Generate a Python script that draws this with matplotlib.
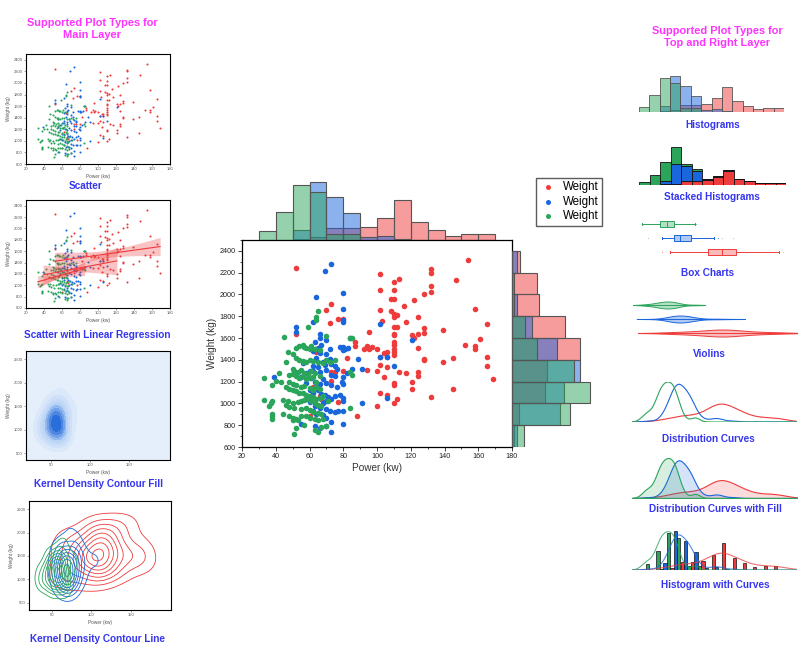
import numpy as np
import matplotlib
matplotlib.use('Agg')
import matplotlib.pyplot as plt
from matplotlib.colors import LinearSegmentedColormap, to_rgba
from matplotlib.ticker import MultipleLocator

plt.rcParams['font.family'] = ['Liberation Sans', 'DejaVu Sans']

# scatter data (power kw, weight kg)
red_x = [52, 154, 132, 132, 147, 113, 110, 102, 102, 110, 132, 132, 128, 122, 110, 108, 116, 102, 110, 112,
         110, 108, 124, 158, 70, 73, 77, 80, 72, 117, 110, 112, 165, 128, 139, 128, 110, 121, 124, 110,
         52, 95, 103, 87, 87, 92, 94, 97, 95, 100, 104, 106, 106, 110, 110, 110, 102, 124, 152, 158,
         158, 161, 110, 110, 122, 94, 100, 102, 106, 113, 117, 124, 124, 104, 128, 128, 139, 145, 165, 165,
         169, 110, 110, 121, 121, 102, 106, 112, 110, 100, 132, 145, 88, 82, 73, 75, 73, 67, 60, 64,
         66, 62, 80, 77]
red_y = [2245, 2320, 2230, 2200, 2135, 2145, 2115, 2190, 2045, 2040, 2080, 2020, 2000, 1945, 1960, 1960, 1895, 1860, 1825, 1810,
         1790, 1850, 1795, 1870, 1860, 1915, 1775, 1775, 1740, 1750, 1700, 1700, 1725, 1690, 1670, 1650, 1640, 1630, 1635, 1625,
         1640, 1655, 1760, 1560, 1530, 1495, 1530, 1515, 1500, 1500, 1460, 1470, 1430, 1500, 1470, 1440, 1425, 1510, 1540, 1525,
         1495, 1590, 1560, 1540, 1605, 1305, 1300, 1350, 1330, 1290, 1275, 1290, 1250, 1240, 1400, 1410, 1380, 1420, 1430, 1345,
         1220, 1190, 1170, 1195, 1135, 1100, 1080, 1040, 1000, 975, 1060, 1135, 880, 1420, 1290, 1285, 1210, 1040, 880, 1475,
         1070, 1150, 1295, 1010]

blue_x = [73, 69, 64, 80, 80, 80, 80, 62, 52, 52, 66, 66, 70, 84, 63, 67, 72, 65, 78, 80,
          80, 81, 83, 62, 66, 70, 72, 64, 68, 69, 73, 75, 76, 62, 65, 60, 58, 62, 66, 70,
          73, 75, 80, 82, 85, 89, 91, 61, 63, 66, 68, 70, 73, 76, 79, 80, 58, 55, 60, 62,
          65, 67, 69, 71, 73, 75, 78, 80, 80, 58, 60, 63, 66, 70, 72, 75, 77, 80, 62, 64,
          68, 70, 73, 55, 63, 66, 70, 73, 80, 91, 102, 121, 102, 106, 110, 106, 56, 39, 68, 70]
blue_y = [2280, 2215, 1975, 2010, 1870, 1770, 1750, 1745, 1700, 1660, 1640, 1600, 1580, 1605, 1560, 1540, 1500, 1510, 1520, 1520,
          1490, 1500, 1510, 1480, 1460, 1450, 1410, 1420, 1380, 1350, 1360, 1340, 1320, 1340, 1330, 1300, 1280, 1300, 1290, 1310,
          1260, 1250, 1240, 1280, 1320, 1405, 1320, 1230, 1200, 1180, 1220, 1190, 1170, 1150, 1200, 1180, 1190, 1240, 1120, 1100,
          1120, 1090, 1080, 1060, 1040, 1070, 1080, 1050, 1020, 1040, 1010, 980, 960, 950, 930, 920, 930, 930, 930, 900,
          890, 870, 830, 810, 790, 770, 790, 740, 810, 1000, 1730, 1585, 1430, 1430, 1340, 1050, 1375, 1240, 1000, 1020]

green_x = [65, 64, 64, 59, 70, 45, 52, 54, 56, 57, 58, 60, 61, 63, 66, 85, 84, 47, 50, 52,
           54, 56, 58, 60, 62, 65, 68, 70, 72, 75, 46, 50, 51, 53, 55, 57, 59, 61, 63, 50,
           52, 54, 56, 58, 60, 62, 64, 66, 84, 85, 33, 40, 43, 48, 50, 52, 55, 57, 60, 62,
           64, 66, 38, 46, 48, 50, 52, 54, 56, 58, 60, 62, 64, 66, 68, 44, 47, 50, 53, 55,
           57, 59, 61, 63, 65, 67, 33, 37, 38, 36, 46, 48, 51, 55, 58, 60, 62, 65, 67, 84,
           71, 38, 38, 38, 44, 48, 50, 52, 50, 53, 55, 58, 60, 63, 65, 68, 52, 57, 63, 65,
           67, 51, 70, 56, 48, 42]
green_y = [1850, 1790, 1770, 1700, 1620, 1610, 1510, 1530, 1540, 1520, 1510, 1500, 1530, 1500, 1490, 1600, 1600, 1470, 1450, 1420,
           1400, 1390, 1380, 1400, 1390, 1380, 1370, 1400, 1380, 1400, 1380, 1320, 1300, 1290, 1310, 1280, 1270, 1300, 1280, 1270,
           1250, 1230, 1250, 1220, 1230, 1240, 1200, 1250, 1290, 1260, 1230, 1210, 1200, 1200, 1180, 1170, 1150, 1160, 1140, 1120,
           1150, 1130, 1170, 1150, 1130, 1120, 1110, 1100, 1100, 1080, 1070, 1060, 1040, 1050, 1070, 1030, 1020, 1000, 1010, 1020,
           1030, 1040, 1020, 1000, 990, 980, 1030, 1000, 1020, 980, 990, 970, 960, 950, 960, 940, 920, 910, 900, 960,
           1020, 900, 880, 860, 900, 880, 870, 860, 850, 850, 880, 880, 870, 860, 850, 860, 770, 800, 760, 740,
           780, 720, 790, 1380, 1260, 1280]

# top histogram (power, bins of 10 from 30 to 170)
top_edges = [30, 40, 50, 60, 70, 80, 90, 100, 110, 120, 130, 140, 150, 160, 170]
red_top = [0, 0, 1, 2, 8, 8, 9, 15, 27, 12, 7, 3, 4, 4]
blue_top = [0, 0, 7, 39, 29, 18, 2, 3, 1, 0, 0, 0, 0, 0]
green_top = [6, 19, 37, 32, 4, 4, 0, 0, 0, 0, 0, 0, 0, 0]

# right histogram (weight, bins of 200 from 600 to 2400)
right_edges = [600, 800, 1000, 1200, 1400, 1600, 1800, 2000, 2200, 2400]
red_right = [1, 4, 20, 21, 41, 32, 16, 15, 5]
blue_right = [3, 29, 31, 41, 27, 12, 3, 1, 3]
green_right = [7, 35, 47, 37, 15, 8, 1, 0, 0]

RED = '#ee3b3b'
BLUE = '#1a66dd'
GREEN = '#2aa55a'
MAGENTA = '#ff33ff'
LBLUE = '#3535f0'
EDGE = '#555555'

groups = [(np.array(red_x), np.array(red_y), RED),
          (np.array(blue_x), np.array(blue_y), BLUE),
          (np.array(green_x), np.array(green_y), GREEN)]
top_counts = [(red_top, RED), (blue_top, BLUE), (green_top, GREEN)]
right_counts = [(red_right, RED), (blue_right, BLUE), (green_right, GREEN)]

W, H = 800, 652
fig = plt.figure(figsize=(8, 6.52), dpi=100)


def box(l, t, r, b):
    return [l / W, 1 - b / H, (r - l) / W, (b - t) / H]


def label(x, y, s, color=LBLUE, size=7.2):
    fig.text(x / W, 1 - y / H, s, color=color, fontsize=size, fontweight='bold',
             ha='center', va='center', linespacing=1.2)


def bare(ax):
    for sp in ax.spines.values():
        sp.set_visible(False)
    ax.set_xticks([])
    ax.set_yticks([])
    ax.patch.set_alpha(0)


def silverman(x):
    return 1.06 * x.std() * len(x) ** (-0.2)


def kde1(data, grid, bw):
    d = (grid[:, None] - data[None, :]) / bw
    return np.exp(-0.5 * d ** 2).sum(1) / (len(data) * bw * np.sqrt(2 * np.pi))


def kde2(x, y, gx, gy, scale=1.0):
    f = len(x) ** (-1 / 6) * scale
    bx, by = x.std() * f, y.std() * f
    X, Y = np.meshgrid(gx, gy)
    dx = (X[..., None] - x) / bx
    dy = (Y[..., None] - y) / by
    return X, Y, np.exp(-0.5 * (dx ** 2 + dy ** 2)).sum(-1) / (len(x) * 2 * np.pi * bx * by)


def thumb_axes(ax):
    ax.tick_params(labelsize=3, length=1.5, width=0.4, pad=1, colors='#555555')
    ax.set_xlabel('Power (kw)', fontsize=3.4, color='#555555', labelpad=1.5)
    ax.set_ylabel('Weight (kg)', fontsize=3.4, color='#555555', labelpad=1.5)
    for sp in ax.spines.values():
        sp.set_linewidth(0.8)


# ---------------- main layer ----------------
ax = fig.add_axes(box(242, 240, 512, 447))
for x, y, c in groups:
    ax.scatter(x, y, s=16, color=c, linewidths=0, label='Weight')
ax.set_xlim(20, 180)
ax.set_ylim(600, 2500)
ax.xaxis.set_major_locator(MultipleLocator(20))
ax.xaxis.set_minor_locator(MultipleLocator(10))
ax.yaxis.set_major_locator(MultipleLocator(200))
ax.yaxis.set_minor_locator(MultipleLocator(100))
ax.tick_params(labelsize=5.2, length=3, width=0.6, pad=1.5, colors='#222222')
ax.tick_params(which='minor', length=1.6, width=0.5)
ax.set_xlabel('Power (kw)', fontsize=7.2, color='#333333', labelpad=2)
ax.set_ylabel('Weight (kg)', fontsize=7.2, color='#333333', labelpad=2)
for sp in ax.spines.values():
    sp.set_linewidth(0.9)

fig.legend(loc='upper left', bbox_to_anchor=(536 / W, 1 - 178 / H), fontsize=8.3, frameon=True,
           fancybox=False, edgecolor='#333333', borderpad=0.3, labelspacing=0.2,
           handletextpad=0.5, handlelength=1.5, borderaxespad=0, markerscale=0.9)

axt = fig.add_axes(box(242, 181, 512, 240))
for counts, c in top_counts:
    axt.bar(top_edges[:-1], counts, width=10, align='edge', facecolor=to_rgba(c, 0.5),
            edgecolor=EDGE, linewidth=0.8)
axt.set_xlim(20, 180)
axt.set_ylim(0, 39.5)
bare(axt)

axr = fig.add_axes(box(512, 240, 592, 447))
for counts, c in right_counts:
    axr.barh(right_edges[:-1], counts, height=200, align='edge', facecolor=to_rgba(c, 0.5),
             edgecolor=EDGE, linewidth=0.8)
axr.set_ylim(600, 2500)
axr.set_xlim(0, 48)
bare(axr)

# ---------------- left column ----------------
label(92, 29, 'Supported Plot Types for\nMain Layer', MAGENTA, 7.9)

a1 = fig.add_axes(box(26, 54, 170, 164))
for x, y, c in groups:
    a1.scatter(x, y, s=2.2, color=c, linewidths=0)
a1.set_xlim(20, 180)
a1.set_ylim(600, 2500)
a1.xaxis.set_major_locator(MultipleLocator(20))
a1.yaxis.set_major_locator(MultipleLocator(200))
thumb_axes(a1)
label(86, 186, 'Scatter')

a2 = fig.add_axes(box(26, 200, 170, 308))
for x, y, c in groups:
    a2.scatter(x, y, s=2.2, color=c, linewidths=0)
for x, y, c in groups:
    k, b0 = np.polyfit(x, y, 1)
    xs = np.linspace(x.min(), x.max(), 60)
    fit = k * xs + b0
    res = y - (k * x + b0)
    s = np.sqrt((res ** 2).sum() / (len(x) - 2))
    se = s * np.sqrt(1 / len(x) + (xs - x.mean()) ** 2 / ((x - x.mean()) ** 2).sum())
    a2.fill_between(xs, fit - 1.98 * se, fit + 1.98 * se, color=RED, alpha=0.3, linewidth=0)
    a2.plot(xs, fit, color=RED, lw=0.8)
a2.set_xlim(20, 180)
a2.set_ylim(600, 2500)
a2.xaxis.set_major_locator(MultipleLocator(20))
a2.yaxis.set_major_locator(MultipleLocator(200))
thumb_axes(a2)
label(97, 335, 'Scatter with Linear Regression')

gx = np.linspace(10, 210, 160)
gy = np.linspace(200, 2800, 160)

a3 = fig.add_axes(box(26, 351, 170, 460))
gxv, gyv, c = groups[2]
X, Y, Z = kde2(gxv, gyv, gx, gy, scale=1.7)
cmap = LinearSegmentedColormap.from_list('kb', ['#eaf2fc', '#b9d3f5', '#1862d8'])
a3.contourf(X, Y, Z, levels=np.linspace(0, Z.max(), 10), cmap=cmap)
a3.set_xlim(18, 202)
a3.set_ylim(359, 2677)
a3.set_xticks([50, 100, 150])
a3.set_yticks([500, 1000, 1500, 2000, 2500])
thumb_axes(a3)
label(98, 484, 'Kernel Density Contour Fill')

a4 = fig.add_axes(box(29, 501, 171, 610))
for x, y, c in groups:
    X, Y, Z = kde2(x, y, gx, gy, scale=1.3)
    a4.contour(X, Y, Z, levels=np.linspace(0.1, 0.95, 8) * Z.max(), colors=c, linewidths=0.6)
a4.set_xlim(21, 201)
a4.set_ylim(343, 2678)
a4.set_xticks([50, 100, 150])
a4.set_yticks([500, 1000, 1500, 2000, 2500])
thumb_axes(a4)
label(97, 639, 'Kernel Density Contour Line')

# ---------------- right column ----------------
label(717, 37, 'Supported Plot Types for\nTop and Right Layer', MAGENTA, 7.9)
XL = (23.2, 182.5)
centers = np.array(top_edges[:-1]) + 5

b1 = fig.add_axes(box(639, 76, 784, 112))
for counts, c in top_counts:
    b1.bar(top_edges[:-1], counts, width=10, align='edge', facecolor=to_rgba(c, 0.5),
           edgecolor=EDGE, linewidth=0.6)
b1.set_xlim(30, 170)
b1.set_ylim(0, 39.5)
bare(b1)
label(713, 125, 'Histograms')

b2 = fig.add_axes(box(639, 147, 786, 185))
bottom = np.zeros(len(centers))
for counts, c in top_counts:
    b2.bar(top_edges[:-1], counts, width=10, align='edge', bottom=bottom, color=c,
           edgecolor='#111111', linewidth=0.6)
    bottom = bottom + np.array(counts)
b2.set_xlim(30, 170)
b2.set_ylim(0, bottom.max())
bare(b2)
label(712, 197, 'Stacked Histograms')

b3 = fig.add_axes(box(639, 217, 784, 259))
for pos, (x, y, c) in zip([1, 2, 3], groups):
    b3.boxplot([x], positions=[pos], orientation='horizontal', widths=0.42, patch_artist=True,
               boxprops=dict(facecolor=to_rgba(c, 0.35), edgecolor=c, linewidth=0.7),
               medianprops=dict(color=c, linewidth=0.7),
               whiskerprops=dict(color=c, linewidth=0.7),
               capprops=dict(color=c, linewidth=0.7),
               flierprops=dict(marker='o', markersize=0.8, markerfacecolor=to_rgba(c, 0.4),
                               markeredgecolor='none'))
b3.set_xlim(30, 170)
b3.set_ylim(0.5, 3.5)
bare(b3)
label(708, 273, "Box Charts")

b4 = fig.add_axes(box(632, 297, 797, 341))
for pos, (x, y, c) in zip([1, 2, 3], groups):
    bw = 1.4 * silverman(x)
    xs = np.linspace(x.min() - 1.5 * bw, x.max() + 1.5 * bw, 200)
    d = kde1(x, xs, bw)
    d = d / d.max() * 0.25
    b4.fill_between(xs, pos - d, pos + d, facecolor=to_rgba(c, 0.35), edgecolor=c, linewidth=0.7)
    b4.plot(xs, np.full_like(xs, pos), color=c, lw=0.7)
b4.set_xlim(*XL)
b4.set_ylim(0.43, 3.57)
bare(b4)
label(709, 354, 'Violins')

grid = np.linspace(XL[0], XL[1], 300)
dens = [(kde1(x, grid, silverman(x)), c) for x, y, c in groups]
ymax = max(d.max() for d, c in dens)

b5 = fig.add_axes(box(632, 382, 797, 422))
for d, c in dens:
    b5.plot(grid, d, color=c, lw=0.8)
b5.set_xlim(*XL)
b5.set_ylim(0, ymax)
bare(b5)
label(708, 439, 'Distribution Curves')

b6 = fig.add_axes(box(632, 458, 797, 498))
for d, c in dens:
    b6.fill_between(grid, 0, d, facecolor=to_rgba(c, 0.18), edgecolor=c, linewidth=0.8)
b6.set_xlim(*XL)
b6.set_ylim(0, ymax)
bare(b6)
label(715, 509, 'Distribution Curves with Fill')

b7 = fig.add_axes(box(632, 530, 797, 570))
for off, (counts, c) in zip([-3.2, 0, 3.2], top_counts):
    b7.bar(centers + off, counts, width=3.1, color=c, edgecolor='#111111', linewidth=0.5)
for (counts, c), (x, y, _) in zip(top_counts, groups):
    b7.plot(grid, kde1(x, grid, silverman(x)) * sum(counts) * 10, color=c, lw=0.8, alpha=0.75)
b7.set_xlim(*XL)
b7.set_ylim(0, 40)
bare(b7)
label(715, 585, 'Histogram with Curves')

fig.savefig('out.png', dpi=100)
